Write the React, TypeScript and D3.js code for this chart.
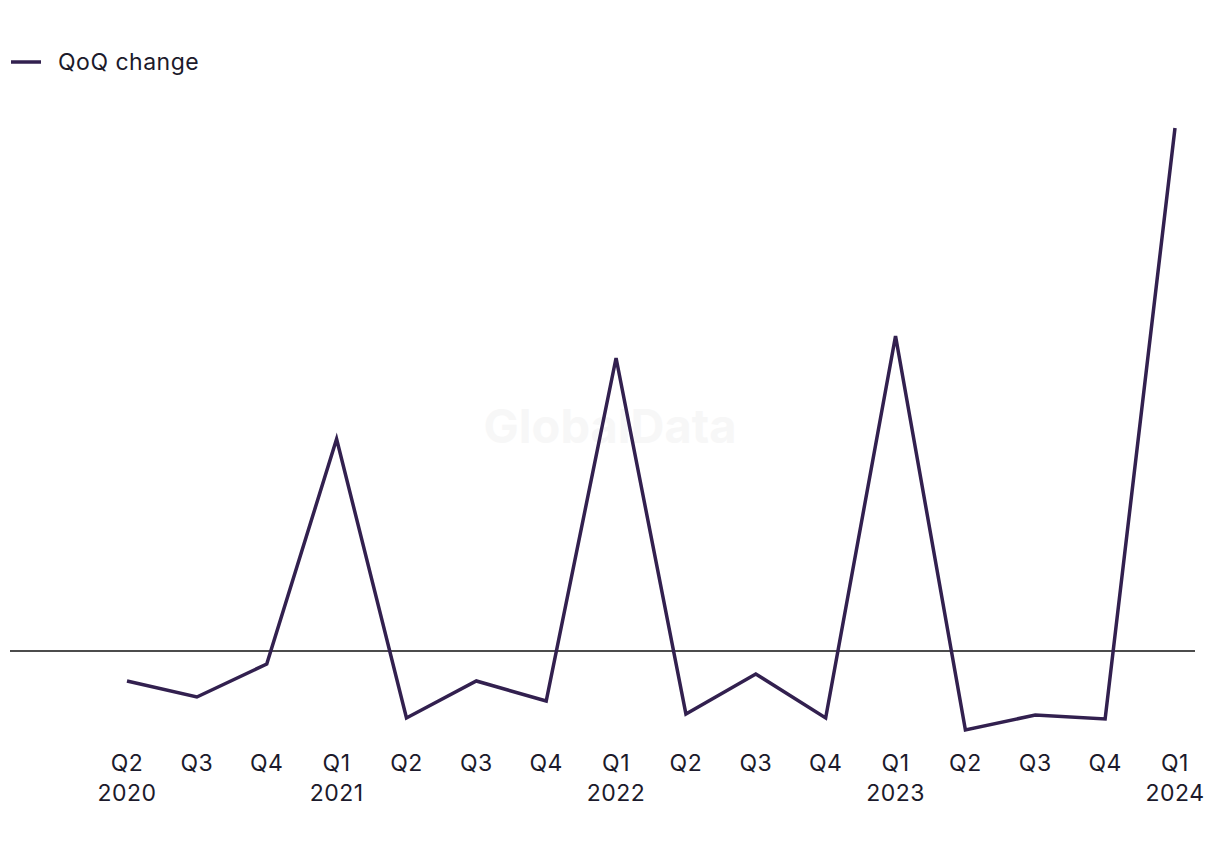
import React from "react";
import * as d3 from "d3";

const quarters = ["Q2", "Q3", "Q4", "Q1", "Q2", "Q3", "Q4", "Q1", "Q2", "Q3", "Q4", "Q1", "Q2", "Q3", "Q4", "Q1"];
const years = ["2020", "", "", "2021", "", "", "", "2022", "", "", "", "2023", "", "", "", "2024"];
const qoqChange = [-3.0, -4.6, -1.3, 21.2, -6.7, -3.0, -5.0, 29.3, -6.3, -2.3, -6.7, 31.5, -7.9, -6.4, -6.8, 52.3];

const W = 1220;
const H = 850;
const LINE_COLOR = "#32204f";
const TEXT_COLOR = "#1c1a2b";
const FONT = "Inter, 'Noto Sans', sans-serif";

export default function App() {
  const idx = quarters.map((_, i) => i);
  const x = d3.scaleLinear().domain([0, quarters.length - 1]).range([127, 1175]);
  const y = d3.scaleLinear().domain([-10, 55]).range([751, 101]);
  const line = d3
    .line<number>()
    .x((_, i) => x(i))
    .y((d) => y(d));

  return (
    <svg
      width={W}
      height={H}
      style={{ position: "absolute", left: 0, top: 0, background: "#fff" }}
      fontFamily={FONT}
    >
      <rect width={W} height={H} fill="#fff" />
      <text
        x={610}
        y={443}
        textAnchor="middle"
        fontSize={47}
        fontWeight={700}
        fill="#f7f7f7"
      >
        GlobalData
      </text>
      {/* legend */}
      <line x1={11} x2={41} y1={62} y2={62} stroke={LINE_COLOR} strokeWidth={3.5} />
      <text x={58} y={70} fontSize={23} letterSpacing={0.5} fill={TEXT_COLOR}>
        QoQ change
      </text>
      {/* zero line */}
      <line x1={10} x2={1195} y1={y(0)} y2={y(0)} stroke="#111" strokeWidth={1.5} />
      <path d={line(qoqChange) || ""} fill="none" stroke={LINE_COLOR} strokeWidth={3.5} strokeLinejoin="miter" />
      {/* x ticks */}
      {idx.map((i) => (
        <g key={i}>
          <text x={x(i)} y={771} textAnchor="middle" fontSize={23} letterSpacing={0.5} fill={TEXT_COLOR}>
            {quarters[i]}
          </text>
          {years[i] && (
            <text x={x(i)} y={801} textAnchor="middle" fontSize={23} letterSpacing={0.5} fill={TEXT_COLOR}>
              {years[i]}
            </text>
          )}
        </g>
      ))}
    </svg>
  );
}
